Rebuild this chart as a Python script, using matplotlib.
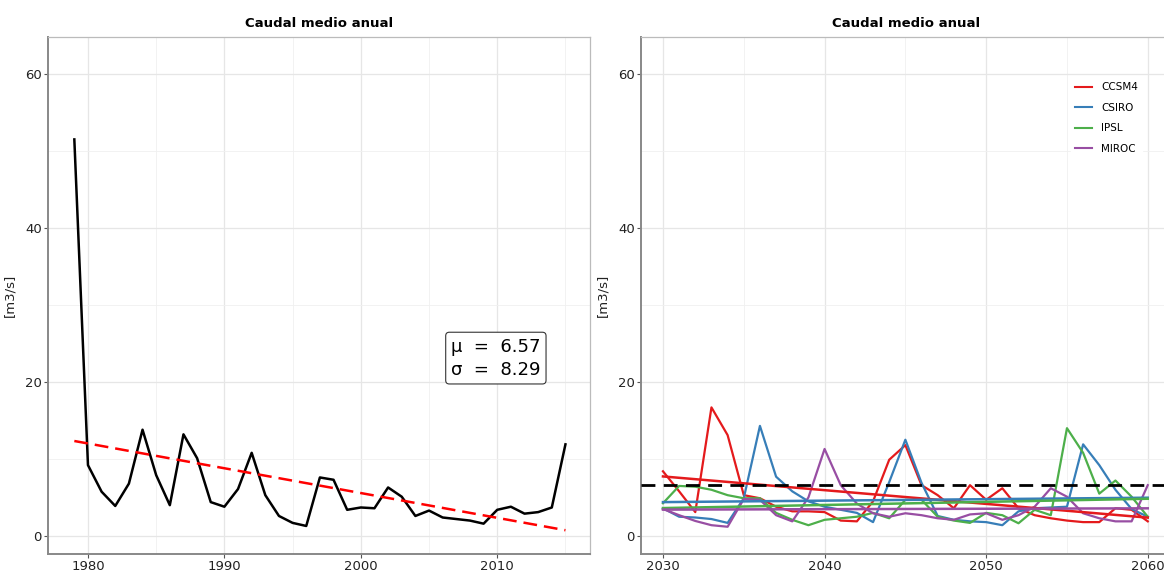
import numpy as np
import matplotlib
matplotlib.use("Agg")
import matplotlib.pyplot as plt
from matplotlib.ticker import MultipleLocator

# ---------------- data ----------------
hist_years = list(range(1979, 2016))
hist_flow = [51.5, 9.2, 5.75, 3.9, 6.8, 13.8, 7.9, 4.0, 13.2, 10.1, 4.4, 3.8, 6.1,
             10.8, 5.3, 2.6, 1.7, 1.3, 7.6, 7.3, 3.4, 3.7, 3.6, 6.3, 5.1, 2.6,
             3.3, 2.4, 2.2, 2.0, 1.6, 3.4, 3.8, 2.9, 3.1, 3.7, 11.9]

proj_years = list(range(2030, 2061))
ccsm4 = [8.4, 5.8, 3.1, 16.7, 13.1, 5.3, 4.9, 3.8, 3.2, 3.2, 3.1, 2.0, 1.9, 4.5, 9.9,
         11.8, 6.6, 5.3, 3.6, 6.6, 4.7, 6.2, 3.6, 2.7, 2.3, 2.0, 1.8, 1.8, 3.6, 3.4, 1.9]
csiro = [3.6, 2.5, 2.4, 2.2, 1.7, 4.9, 14.3, 7.7, 5.8, 4.5, 3.8, 3.4, 3.0, 1.8, 7.0,
         12.5, 6.9, 2.6, 2.1, 1.9, 1.8, 1.4, 3.2, 3.6, 3.7, 3.8, 11.9, 9.2, 6.0, 3.5, 2.5]
ipsl = [4.25, 6.5, 6.4, 6.0, 5.3, 4.9, 4.9, 3.0, 2.1, 1.4, 2.1, 2.3, 2.5, 3.0, 2.3,
        4.7, 4.7, 2.5, 2.0, 1.7, 3.0, 2.7, 1.65, 3.4, 2.7, 14.0, 10.8, 5.5, 7.2, 5.1, 2.5]
miroc = [3.5, 2.7, 1.95, 1.4, 1.2, 4.8, 4.7, 2.7, 1.9, 5.0, 11.3, 6.6, 4.2, 2.95, 2.5,
         2.95, 2.7, 2.3, 2.1, 2.8, 2.95, 2.1, 2.7, 3.8, 6.2, 5.1, 2.95, 2.3, 1.9, 1.9, 6.6]

model_names = ["CCSM4", "CSIRO", "IPSL", "MIROC"]
model_series = [ccsm4, csiro, ipsl, miroc]
model_colors = ["#E41A1C", "#377EB8", "#4DAF4A", "#984EA3"]

hist_mean = 6.57
hist_sd = 8.29

# ---------------- figure ----------------
fig = plt.figure(figsize=(11.64, 5.71), dpi=100)
W, H = 1164, 571

def px_axes(x0, x1, ytop, ybot):
    return fig.add_axes([x0 / W, 1 - ybot / H, (x1 - x0) / W, (ybot - ytop) / H])

ax1 = px_axes(48, 590, 37, 554)
ax2 = px_axes(641, 1172, 37, 554)

def style(ax, xmaj):
    ax.set_facecolor("white")
    ax.set_ylim(-2.34, 64.8)
    ax.yaxis.set_major_locator(MultipleLocator(20))
    ax.yaxis.set_minor_locator(MultipleLocator(10))
    ax.xaxis.set_major_locator(MultipleLocator(xmaj))
    ax.xaxis.set_minor_locator(MultipleLocator(xmaj / 2))
    ax.grid(which="major", color="#E6E6E6", lw=0.9)
    ax.grid(which="minor", color="#F0F0F0", lw=0.6)
    ax.set_axisbelow(True)
    for s in ["top", "right"]:
        ax.spines[s].set_color("#BBBBBB")
        ax.spines[s].set_linewidth(0.9)
    for s in ["left", "bottom"]:
        ax.spines[s].set_color("#888888")
        ax.spines[s].set_linewidth(1.4)
    ax.tick_params(which="major", length=3, width=0.8, color="#555555",
                   labelsize=9.5, labelcolor="#222222", pad=1.5)
    ax.tick_params(which="minor", length=0)
    ax.set_ylabel("[m3/s]", fontsize=9.5, color="#222222", labelpad=6)
    ax.set_title("Caudal medio anual", fontsize=9.5, fontweight="bold", pad=7)

# left panel
style(ax1, 10)
ax1.set_xlim(1977.07, 2016.8)
ax1.plot(hist_years, hist_flow, color="black", lw=1.8, zorder=3)
coef = np.polyfit(hist_years, hist_flow, 1)
trend = np.polyval(coef, hist_years)
ax1.plot(hist_years, trend, color="#FF0000", lw=1.8, ls=(0, (5.5, 2.8)), zorder=4)
ax1.text(2009.9, 23.1, "\u03bc  =  %.2f\n\u03c3  =  %.2f" % (hist_mean, hist_sd),
         ha="center", va="center", fontsize=13, linespacing=1.35,
         bbox=dict(boxstyle="round,pad=0.3,rounding_size=0.2", fc="white",
                   ec="#333333", lw=0.8), zorder=5)

# right panel
style(ax2, 10)
ax2.set_xlim(2028.64, 2061.5)
for name, vals, col in zip(model_names, model_series, model_colors):
    ax2.plot(proj_years, vals, color=col, lw=1.6, label=name, zorder=3)
for vals, col in zip(model_series, model_colors):
    c = np.polyfit(proj_years, vals, 1)
    ax2.plot(proj_years, np.polyval(c, proj_years), color=col, lw=1.8, zorder=3)
ax2.axhline(hist_mean, color="black", lw=2.0, ls=(0, (5, 3)), zorder=4)

leg = ax2.legend(loc="upper left", bbox_to_anchor=((1066 - 641) / (1172 - 641), 1 - (73 - 37) / (554 - 37)),
                 frameon=True, fontsize=7.5, handlelength=1.6, handletextpad=0.9,
                 labelspacing=1.0, borderpad=0.4)
leg.get_frame().set_facecolor("white")
leg.get_frame().set_edgecolor("white")
leg.get_frame().set_alpha(1)
for line in leg.get_lines():
    line.set_linewidth(1.5)

fig.savefig("out.png", dpi=100)
